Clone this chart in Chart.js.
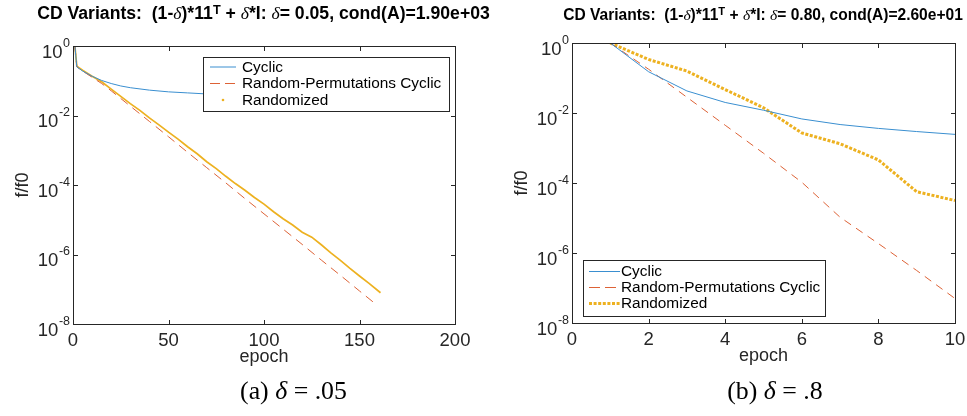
<!DOCTYPE html>
<html><head><meta charset="utf-8">
<script src="https://cdn.jsdelivr.net/npm/chart.js@4.4.1/dist/chart.umd.min.js"></script>
<style>
html,body{margin:0;padding:0;background:#fff;}
#wrap{position:relative;width:967px;height:416px;overflow:hidden;background:#fff;}
canvas{position:absolute;top:0;}
.title{position:absolute;white-space:nowrap;font-family:"Liberation Sans",Arial,sans-serif;font-weight:bold;color:#000;line-height:1;}
.title i{font-family:"Liberation Serif","Times New Roman",serif;font-style:italic;font-weight:normal;}
.title sup{font-size:0.72em;vertical-align:0.42em;line-height:0;}
.cap{position:absolute;white-space:nowrap;font-family:"Liberation Serif","Times New Roman",serif;color:#000;line-height:1;}
.cap i{font-style:italic;}
</style></head>
<body>
<div id="wrap">
  <canvas id="c1" width="483" height="416" style="left:0px"></canvas>
  <canvas id="c2" width="484" height="416" style="left:483px"></canvas>
  <div class="title" id="t1">CD Variants:&nbsp; (1-<i>δ</i>)*11<sup>T</sup> + <i>δ</i>*I: <i>δ</i>= 0.05, cond(A)=1.90e+03</div>
  <div class="title" id="t2">CD Variants:&nbsp; (1-<i>δ</i>)*11<sup>T</sup> + <i>δ</i>*I: <i>δ</i>= 0.80, cond(A)=2.60e+01</div>
  <div class="cap" id="k1">(a) <i>δ</i> = .05</div>
  <div class="cap" id="k2">(b) <i>δ</i> = .8</div>
</div>
<script>
// ---------------- data ----------------
const seriesLabels = ['Cyclic', 'Random-Permutations Cyclic', 'Randomized'];

// (a) delta = 0.05
const leftCyclicEpochs = [1,2,5,10,15,20,25,30,40,50,60,70,80,90,100,110,120,130,140,150,160];
const leftCyclic = [1,0.251,0.191,0.135,0.102,0.0832,0.0708,0.0631,0.0537,0.0479,0.0447,0.0417,0.0389,0.0363,0.0347,0.0331,0.0316,0.0302,0.0288,0.0275,0.0263];
const leftPermEpochs = [1,2,5,10,15,20,30,40,50,60,70,80,90,100,110,120,130,140,150,159];
const leftPerm = [1,0.251,0.191,0.126,0.0832,0.0513,0.0186,6.76e-3,2.45e-3,8.71e-4,3.16e-4,1.15e-4,4.07e-5,1.48e-5,5.37e-6,1.95e-6,6.92e-7,2.51e-7,8.91e-8,3.55e-8];
const leftRandEpochs = [1,2,5,10,15,20,25,30,35,40,45,50,55,60,65,70,75,80,85,90,95,100,105,110,115,120,125,130,135,140,145,150,155,161];
const leftRand = [1,0.263,0.2,0.135,0.0933,0.0575,0.0355,0.0219,0.0141,8.51e-3,5.37e-3,3.31e-3,2.09e-3,1.26e-3,7.94e-4,4.68e-4,2.95e-4,1.78e-4,1.10e-4,7.08e-5,4.37e-5,2.82e-5,1.70e-5,1.07e-5,7.08e-6,4.37e-6,3.16e-6,1.91e-6,1.12e-6,6.76e-7,3.98e-7,2.40e-7,1.48e-7,7.94e-8];
const leftXTicks = [0,50,100,150,200];
const leftXTickLabels = ['0','50','100','150','200'];

// (b) delta = 0.8
const rightEpochs = [1,2,3,4,5,6,7,8,9,10];
const rightCyclic = [1,0.151,0.0427,0.02,0.012,6.76e-3,4.68e-3,3.63e-3,2.95e-3,2.45e-3];
const rightPerm = [1,0.178,0.0282,4.47e-3,7.08e-4,1.05e-4,1.05e-5,1.86e-6,3.16e-7,5.01e-8];
const rightRand = [1,0.339,0.158,0.0468,0.0141,2.69e-3,1.32e-3,4.57e-4,5.62e-5,3.16e-5];
const rightXTicks = [0,2,4,6,8,10];
const rightXTickLabels = ['0','2','4','6','8','10'];

const yTicks = [1e-8,1e-6,1e-4,1e-2,1];
const yTickExps = ['-8','-6','-4','-2','0'];
const xTitle = 'epoch';
const yTitle = 'f/f0';

// ---------------- drawing ----------------
const FONT = '"Liberation Sans", Arial, Helvetica, sans-serif';
const pts = (xs, ys) => xs.map((v, i) => ({x: v, y: ys[i]}));

function drawFrame(chart, o) {
  const ctx = chart.ctx;
  const x = chart.scales.x, y = chart.scales.y;
  const xt = o.xTicks;
  const L = Math.round(x.getPixelForValue(xt[0]));
  const R = Math.round(x.getPixelForValue(xt[xt.length - 1]));
  const T = Math.round(y.getPixelForValue(yTicks[yTicks.length - 1]));
  const B = Math.round(y.getPixelForValue(yTicks[0]));
  ctx.save();
  ctx.setLineDash([]);
  ctx.fillStyle = '#262626';
  ctx.fillRect(L, T, R - L + 1, 1);
  ctx.fillRect(L, B, R - L + 1, 1);
  ctx.fillRect(L, T, 1, B - T + 1);
  ctx.fillRect(R, T, 1, B - T + 1);
  xt.forEach(v => { const px = Math.round(x.getPixelForValue(v));
    ctx.fillRect(px, B - 4, 1, 4); ctx.fillRect(px, T + 1, 1, 4); });
  yTicks.forEach(v => { const py = Math.round(y.getPixelForValue(v));
    ctx.fillRect(L + 1, py, 4, 1); ctx.fillRect(R - 4, py, 4, 1); });
  ctx.restore();
  return {L, R, T, B};
}

const matlabAxes = {
  id: 'matlabAxes',
  afterDraw(chart, args, o) {
    const ctx = chart.ctx;
    const x = chart.scales.x, y = chart.scales.y;
    const xt = o.xTicks;
    const {L, R, T, B} = drawFrame(chart, o);
    ctx.save();
    ctx.fillStyle = '#262626';
    ctx.font = o.tickSize + 'px ' + FONT;
    ctx.textAlign = 'center'; ctx.textBaseline = 'alphabetic';
    xt.forEach((v, i) => ctx.fillText(o.xTickLabels[i], x.getPixelForValue(v), B + 22));
    ctx.textAlign = 'left';
    yTicks.forEach((v, i) => {
      const py = y.getPixelForValue(v);
      const e = yTickExps[i];
      ctx.font = o.expSize + 'px ' + FONT; const we = ctx.measureText(e).width;
      const right = L - 3;
      ctx.fillText(e, right - we, py + 0.5);
      ctx.font = o.tickSize + 'px ' + FONT; const wb = ctx.measureText('10').width;
      ctx.fillText('10', right - we - wb - 0.5, py + 11.5);
    });
    ctx.font = o.labelSize + 'px ' + FONT;
    ctx.textAlign = 'center';
    ctx.fillText(xTitle, (L + R) / 2, B + 38);
    ctx.save();
    ctx.translate(L - 50, (T + B) / 2);
    ctx.rotate(-Math.PI / 2);
    ctx.textBaseline = 'middle';
    ctx.fillText(yTitle, 0, 0);
    ctx.restore();

    // legend box
    const lg = o.legend;
    ctx.fillStyle = '#ffffff';
    ctx.fillRect(lg.x, lg.y, lg.w, lg.h);
    ctx.fillStyle = '#262626';
    ctx.fillRect(lg.x, lg.y, lg.w + 1, 1);
    ctx.fillRect(lg.x, lg.y + lg.h, lg.w + 1, 1);
    ctx.fillRect(lg.x, lg.y, 1, lg.h + 1);
    ctx.fillRect(lg.x + lg.w, lg.y, 1, lg.h + 1);
    chart.data.datasets.forEach((ds, i) => {
      const ry = lg.rows[i];
      ctx.strokeStyle = ds.borderColor; ctx.fillStyle = ds.borderColor;
      if (ds.legendDot) {
        ctx.beginPath(); ctx.arc((lg.s0 + lg.s1) / 2, ry, 1.3, 0, Math.PI * 2); ctx.fill();
      } else {
        ctx.lineWidth = ds.borderWidth;
        ctx.setLineDash(ds.legendDash || ds.borderDash || []);
        ctx.beginPath(); ctx.moveTo(lg.s0, ry); ctx.lineTo(lg.s1, ry); ctx.stroke();
        ctx.setLineDash([]);
      }
      ctx.fillStyle = '#000';
      ctx.font = lg.font + 'px ' + FONT;
      ctx.textAlign = 'left'; ctx.textBaseline = 'middle';
      ctx.fillText(ds.label, lg.tx, ry + 0.5);
    });
    drawFrame(chart, o);
    ctx.restore();
  }
};

function makeChart(id, datasets, xmax, xTicks, xTickLabels, padding, legend) {
  return new Chart(document.getElementById(id), {
    type: 'line',
    data: {datasets},
    options: {
      responsive: false, animation: false, devicePixelRatio: 1,
      layout: {padding},
      elements: {point: {radius: 0}, line: {tension: 0}},
      scales: {
        x: {type: 'linear', min: 0, max: xmax, display: false},
        y: {type: 'logarithmic', min: 1e-8, max: 1, display: false}
      },
      plugins: {
        legend: {display: false}, tooltip: {enabled: false},
        matlabAxes: {xTicks, xTickLabels, tickSize: 18.5, expSize: 12.5, labelSize: 18, legend}
      }
    },
    plugins: [matlabAxes]
  });
}

makeChart('c1', [
  {label: seriesLabels[0], data: pts(leftCyclicEpochs, leftCyclic), borderColor: '#3a8fd0', borderWidth: 1},
  {label: seriesLabels[1], data: pts(leftPermEpochs, leftPerm), borderColor: '#dd6236', borderWidth: 1, borderDash: [9, 6], legendDash: [10, 5]},
  {label: seriesLabels[2], data: pts(leftRandEpochs, leftRand), borderColor: '#EDB120', borderWidth: 1.7, legendDot: true}
], 200, leftXTicks, leftXTickLabels, {left: 73, right: 28, top: 46, bottom: 92},
  {x: 203, y: 57, w: 246, h: 54, rows: [67, 83.5, 100], s0: 210, s1: 236, tx: 242, font: 15.4});

// right canvas starts at page x = 483, legend given in canvas coords
makeChart('c2', [
  {label: seriesLabels[0], data: pts(rightEpochs, rightCyclic), borderColor: '#3a8fd0', borderWidth: 1},
  {label: seriesLabels[1], data: pts(rightEpochs, rightPerm), borderColor: '#dd6236', borderWidth: 1, borderDash: [8, 6], legendDash: [11, 5]},
  {label: seriesLabels[2], data: pts(rightEpochs, rightRand), borderColor: '#EDB120', borderWidth: 3, borderDash: [3, 1.6]}
], 10, rightXTicks, rightXTickLabels, {left: 89, right: 12, top: 43, bottom: 93},
  {x: 100, y: 260, w: 242, h: 56, rows: [271.5, 287.5, 303.5], s0: 106, s1: 137, tx: 138, font: 15.4});

// ---------------- titles and captions ----------------
function place(el, fs, target, cx, baseline, ascRatio) {
  el.style.fontSize = fs + 'px';
  const w = el.getBoundingClientRect().width;
  const f = fs * target / w;
  el.style.fontSize = f + 'px';
  const w2 = el.getBoundingClientRect().width;
  el.style.left = (cx - w2 / 2) + 'px';
  el.style.top = (baseline - ascRatio * f) + 'px';
  return f;
}
place(document.getElementById('t1'), 15, 453, 263.5, 20, 0.846);
place(document.getElementById('t2'), 14, 400, 763, 20, 0.846);
const capF = place(document.getElementById('k1'), 22, 107, 293.5, 400, 0.838);
const k2 = document.getElementById('k2');
k2.style.fontSize = capF + 'px';
const wk2 = k2.getBoundingClientRect().width;
k2.style.left = (775 - wk2 / 2) + 'px';
k2.style.top = (400 - 0.838 * capF) + 'px';
</script>
</body></html>
